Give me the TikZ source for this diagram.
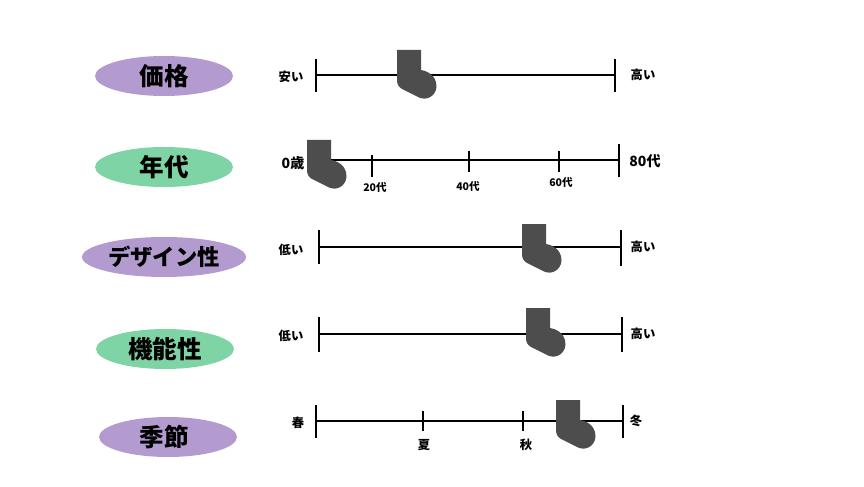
\documentclass[tikz,border=0pt]{standalone}
\usepackage{fontspec}
\setmainfont{Noto Sans CJK JP}
\usepackage{xcolor}
\usetikzlibrary{shapes.geometric}
\definecolor{ovalpurple}{HTML}{B39BD0}
\definecolor{ovalgreen}{HTML}{7FD4A5}
\definecolor{sockgray}{HTML}{4D4D4D}
\begin{document}
\begin{tikzpicture}[
  x=0.02cm,y=-0.02cm,
  line join=round,
  axisline/.style={black,line width=1.35pt},
  endtick/.style={black,line width=1.45pt},
  oval/.style={ellipse,inner sep=0pt,minimum width=2.76cm,minimum height=0.8cm,font=\bfseries\fontsize{14pt}{16pt}\selectfont},
  endlabel/.style={font=\bfseries\fontsize{7pt}{8pt}\selectfont},
  endnumber/.style={font=\bfseries\fontsize{8pt}{9pt}\selectfont},
  agelabel/.style={font=\bfseries\fontsize{6pt}{7pt}\selectfont},
  sock/.pic={
    \fill[sockgray] (0,0) -- (24,0) -- (24,20)
      -- (28,21) .. controls (36,24) and (40,30) .. (39.5,37)
      .. controls (38.5,46) and (30,51) .. (22,47.5)
      -- (5,39) .. controls (1.5,37) and (0,34) .. (0,30) -- cycle;
  }
]
\path[use as bounding box] (0,0) rectangle (864,486);

% ovals on the left
\node[oval,fill=ovalpurple] (price) at (164,76) {価格};
\node[oval,fill=ovalgreen] (age) at (164,167) {年代};
\node[oval,fill=ovalpurple,minimum width=3.28cm,font=\bfseries\fontsize{12.7pt}{15pt}\selectfont] (design) at (164,257) {デザイン性};
\node[oval,fill=ovalgreen] (function) at (165,349) {機能性};
\node[oval,fill=ovalpurple] (season) at (168,437) {\hspace*{-0.16cm}季節};

% price
\coordinate (priceL) at (316,75);
\coordinate (priceR) at (615,75);
\draw[axisline] (priceL) -- (priceR);
\draw[endtick] (316,59) -- (316,92);
\draw[endtick] (615,59) -- (615,92);
\node[endlabel] (priceLow) at (291,77) {安い};
\node[endlabel] (priceHigh) at (643,75) {高い};
\pic at (397,50) {sock};

% age
\coordinate (ageL) at (310,160);
\coordinate (ageR) at (619,160);
\draw[axisline] (ageL) -- (ageR);
\draw[endtick] (619,144) -- (619,177);
\draw[endtick] (372,155) -- (372,177);
\draw[endtick] (469,151) -- (469,172);
\draw[endtick] (559,151) -- (559,172);
\node[endnumber] (ageLow) at (293,163) {0歳};
\node[endnumber] (ageHigh) at (645,161) {80代};
\node[agelabel] (age20) at (375,187) {20代};
\node[agelabel] (age40) at (468,186) {40代};
\node[agelabel] (age60) at (561,182) {60代};
\pic at (307,140) {sock};

% design
\coordinate (designL) at (319,247);
\coordinate (designR) at (621,247);
\draw[axisline] (designL) -- (designR);
\draw[endtick] (319,230) -- (319,264);
\draw[endtick] (621,230) -- (621,266);
\node[endlabel] (designLow) at (291,250) {低い};
\node[endlabel] (designHigh) at (643,247) {高い};
\pic at (522,224) {sock};

% function
\coordinate (functionL) at (319,334);
\coordinate (functionR) at (622,334);
\draw[axisline] (functionL) -- (functionR);
\draw[endtick] (319,317) -- (319,352);
\draw[endtick] (622,317) -- (622,352);
\node[endlabel] (functionLow) at (291,336) {低い};
\node[endlabel] (functionHigh) at (643,334) {高い};
\pic at (526,308) {sock};

% season
\coordinate (seasonL) at (316,421);
\coordinate (seasonR) at (623,421);
\draw[axisline] (seasonL) -- (seasonR);
\draw[endtick] (316,405) -- (316,438);
\draw[endtick] (623,405) -- (623,438);
\draw[endtick] (423,411) -- (423,431);
\draw[endtick] (523,411) -- (523,431);
\node[endlabel] (spring) at (298,423) {春};
\node[endlabel] (summer) at (424,445) {夏};
\node[endlabel] (autumn) at (526,445) {秋};
\node[endlabel] (winter) at (636,421) {冬};
\pic at (556,400) {sock};
\end{tikzpicture}
\end{document}
